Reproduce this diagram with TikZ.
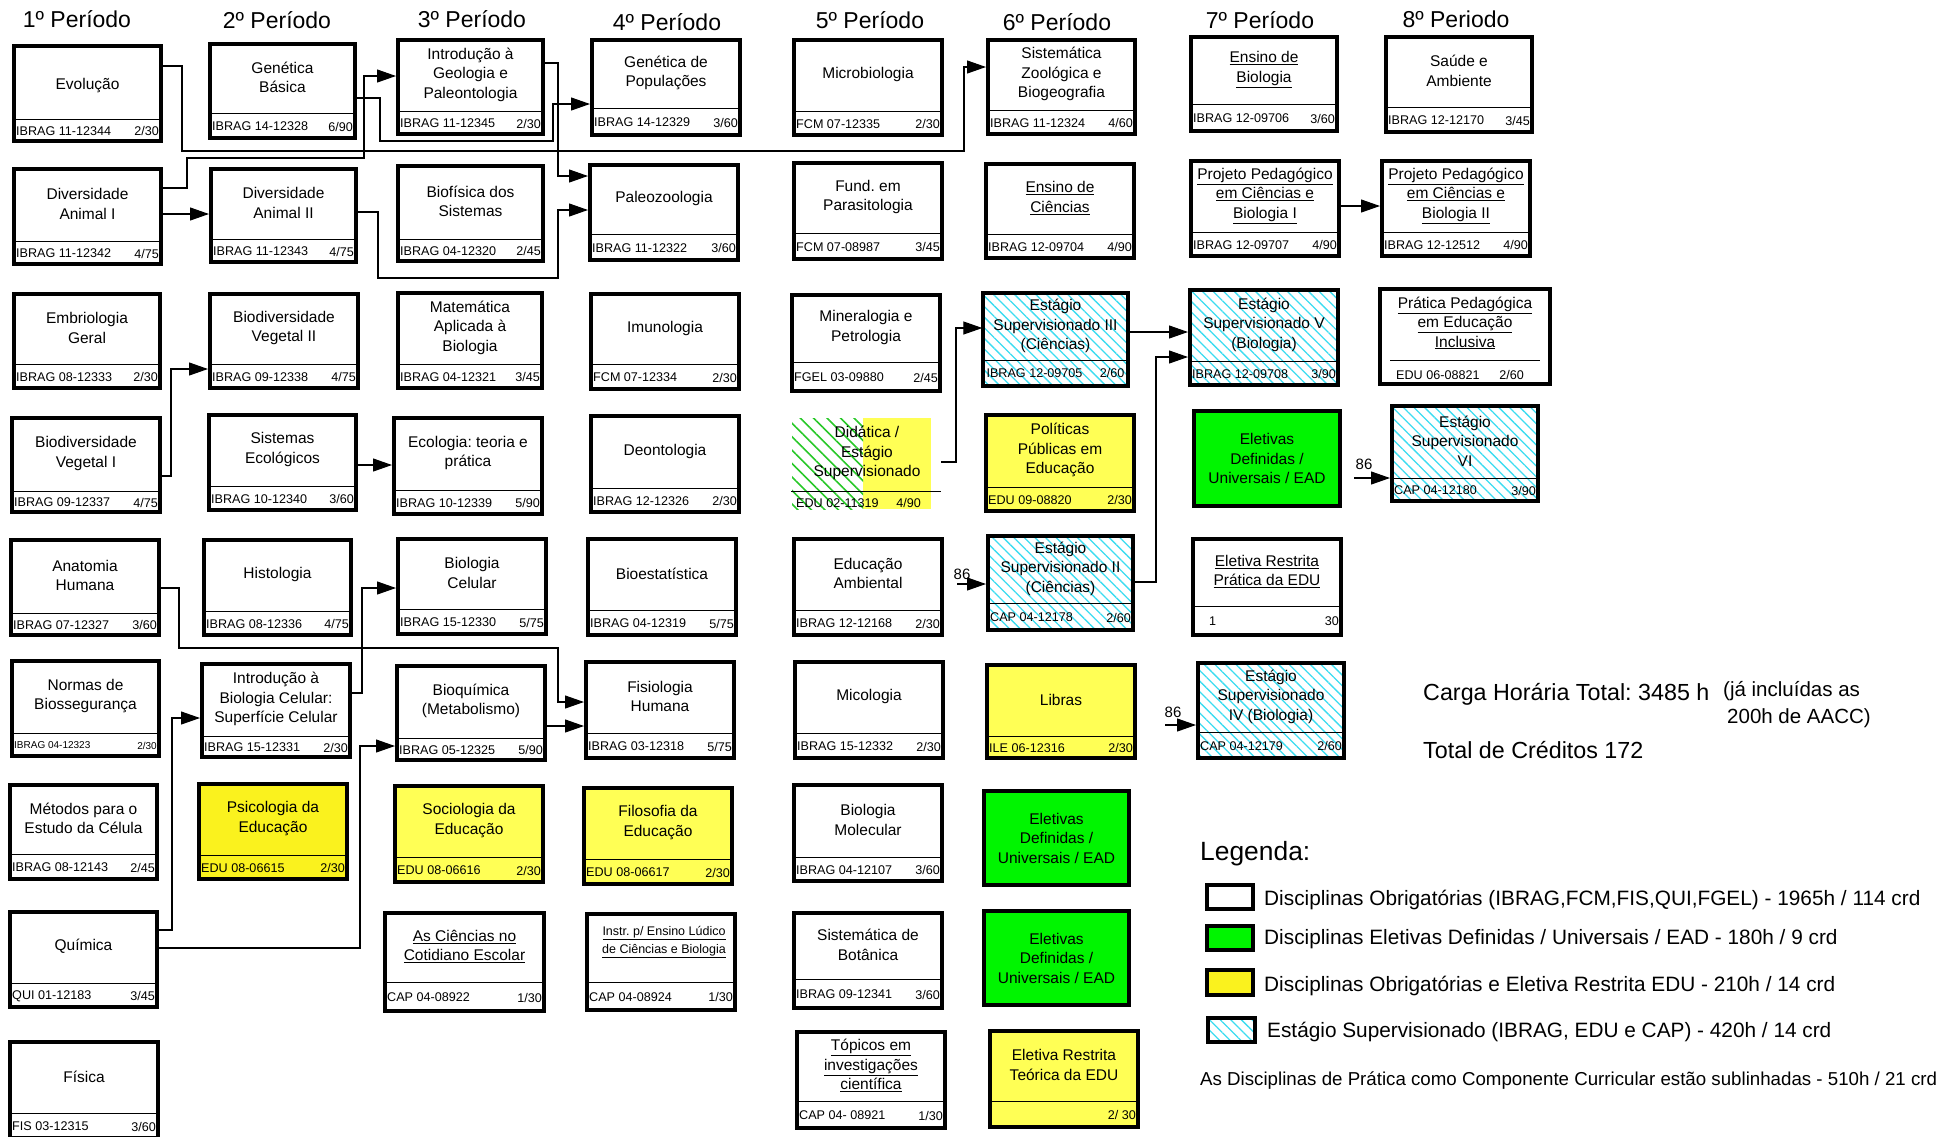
\documentclass[tikz,border=0pt]{standalone}
\usepackage{fontspec}
\setmainfont{Liberation Sans}
\usetikzlibrary{arrows.meta,fit,calc,patterns.meta}
\definecolor{yelA}{RGB}{250,242,30}
\definecolor{yelB}{RGB}{255,255,85}
\definecolor{grn}{RGB}{0,245,0}
\definecolor{hcyan}{RGB}{60,220,240}
\definecolor{hgreen}{RGB}{40,200,40}
\newcommand\ul[1]{\underline{#1}}
\frenchspacing
\tikzset{
 box/.style={draw=black, line width=4pt, inner sep=-2pt},
 divline/.style={line width=1pt},
 ttl/.style={font=\fontsize{15.5}{19.5}\selectfont, align=center, inner sep=0pt},
 curttl/.style={},
 cod/.style={font=\fontsize{12.6}{14}\selectfont, inner xsep=4pt, inner ysep=0pt},
 hdr/.style={font=\fontsize{23}{27}\selectfont, inner sep=0pt, anchor=base},
 conn/.style={line width=1.1pt, -{Triangle[length=19pt,width=13pt]}},
 wht/.style={fill=white},
 yA/.style={fill=yelA},
 yB/.style={fill=yelB},
 gr/.style={fill=grn},
 hatch/.style={pattern={Lines[angle=-45,distance=7.5pt,line width=1.3pt]}, pattern color=hcyan},
 lbl/.style={font=\fontsize{15}{18}\selectfont, inner sep=0pt},
 legtxt/.style={font=\fontsize{20.8}{24}\selectfont, inner sep=0pt, anchor=base west},
}
% name, nw, se, divider y, fill style, title, code, credits
\newcommand\course[8]{%
  \coordinate (#1-nw) at (#2);
  \coordinate (#1-se) at (#3);
  \node[box,#5,fit=(#1-nw)(#1-se)] (#1) {};
  \draw[divline] (#1.west |- 0,#4) -- (#1.east |- 0,#4);
  \node[ttl,curttl] (#1-t) at ($(#1.north)!0.5!(#1.north |- 0,#4)$) {#6};
  \node[cod,anchor=west] (#1-c) at ($(#1.west |- 0,#4)!0.5!(#1.south west)$) {#7};
  \node[cod,anchor=east] (#1-r) at ($(#1.east |- 0,#4)!0.5!(#1.south east)$) {#8};
}
\newcommand\eletbox[3]{%
  \coordinate (#1-nw) at (#2);
  \coordinate (#1-se) at (#3);
  \node[box,gr,fit=(#1-nw)(#1-se)] (#1) {};
  \node[ttl] (#1-t) at (#1.center) {Eletivas\\Definidas /\\Universais / EAD};
}
\begin{document}
\begin{tikzpicture}[x=1pt,y=-1pt]
\useasboundingbox (0,0) rectangle (1957,1136);

% headers
\node[hdr] (h1) at (77,27) {1º Período};
\node[hdr] (h2) at (277,28) {2º Período};
\node[hdr] (h3) at (472,27) {3º Período};
\node[hdr] (h4) at (667,30) {4º Período};
\node[hdr] (h5) at (870,28) {5º Período};
\node[hdr] (h6) at (1057,30) {6º Período};
\node[hdr] (h7) at (1260,28) {7º Período};
\node[hdr] (h8) at (1456,27) {8º Periodo};

% column 1
\tikzset{curttl/.style={yshift=-4pt}}
\course{evol}{12,44}{163,143}{119}{wht}{Evolução}{IBRAG 11-12344}{2/30}
\tikzset{curttl/.style={}}
\course{diva1}{12,167}{163,266}{241}{wht}{Diversidade\\Animal I}{IBRAG 11-12342}{4/75}
\course{embrio}{12,292}{162,390}{364}{wht}{Embriologia\\Geral}{IBRAG 08-12333}{2/30}
\course{bioveg1}{10,416}{162,514}{491}{wht}{Biodiversidade\\Vegetal I}{IBRAG 09-12337}{4/75}
\course{anat}{9,538}{161,637}{613}{wht}{Anatomia\\Humana}{IBRAG 07-12327}{3/60}
\course{normas}{10,659}{161,758}{733}{wht}{Normas de\\Biossegurança}{\fontsize{10}{12}\selectfont IBRAG 04-12323}{\fontsize{10}{12}\selectfont 2/30}
\course{metodos}{8,783}{159,881}{854}{wht}{Métodos para o\\Estudo da Célula}{IBRAG 08-12143}{2/45}
\course{quim}{8,910}{159,1009}{983}{wht}{Química}{QUI 01-12183}{3/45}
\course{fis}{8,1040}{160,1140}{1113}{wht}{Física}{FIS 03-12315}{3/60}

% column 2
\course{genbas}{208,42}{357,140}{113}{wht}{Genética\\Básica}{IBRAG 14-12328}{6/90}
\course{diva2}{209,167}{358,264}{239}{wht}{Diversidade\\Animal II}{IBRAG 11-12343}{4/75}
\course{bioveg2}{208,292}{360,390}{364}{wht}{Biodiversidade\\Vegetal II}{IBRAG 09-12338}{4/75}
\course{sisteco}{207,413}{358,512}{486}{wht}{Sistemas\\Ecológicos}{IBRAG 10-12340}{3/60}
\course{histo}{202,538}{353,637}{611}{wht}{Histologia}{IBRAG 08-12336}{4/75}
\course{introbc}{200,662}{352,759}{736}{wht}{Introdução à\\Biologia Celular:\\Superfície Celular}{IBRAG 15-12331}{2/30}
\course{psico}{197,782}{349,881}{855}{yA}{Psicologia da\\Educação}{EDU 08-06615}{2/30}

% column 3
\course{introgeo}{396,38}{545,136}{111}{wht}{Introdução à\\Geologia e\\Paleontologia}{IBRAG 11-12345}{2/30}
\course{biofis}{396,164}{545,263}{239}{wht}{Biofísica dos\\Sistemas}{IBRAG 04-12320}{2/45}
\course{matem}{396,291}{544,390}{364}{wht}{Matemática\\Aplicada à\\Biologia}{IBRAG 04-12321}{3/45}
\course{ecol}{392,416}{544,516}{490}{wht}{Ecologia: teoria e\\prática}{IBRAG 10-12339}{5/90}
\course{biocel}{396,537}{548,636}{609}{wht}{Biologia\\Celular}{IBRAG 15-12330}{5/75}
\course{bioq}{395,664}{547,762}{738}{wht}{Bioquímica\\(Metabolismo)}{IBRAG 05-12325}{5/90}
\course{socio}{393,784}{545,884}{857}{yB}{Sociologia da\\Educação}{EDU 08-06616}{2/30}
\course{cienc}{383,911}{546,1013}{982}{wht}{\ul{As Ciências no}\\\ul{Cotidiano Escolar}}{CAP 04-08922}{1/30}

% column 4
\course{genpop}{590,38}{742,137}{108}{wht}{Genética de\\Populações}{IBRAG 14-12329}{3/60}
\course{paleo}{588,163}{740,262}{234}{wht}{Paleozoologia}{IBRAG 11-12322}{3/60}
\course{imuno}{589,292}{741,391}{364}{wht}{Imunologia}{FCM 07-12334}{2/30}
\course{deonto}{589,414}{741,514}{488}{wht}{Deontologia}{IBRAG 12-12326}{2/30}
\course{bioest}{586,537}{738,637}{610}{wht}{Bioestatística}{IBRAG 04-12319}{5/75}
\course{fisio}{584,660}{736,760}{733}{wht}{Fisiologia\\Humana}{IBRAG 03-12318}{5/75}
\course{filo}{582,786}{734,886}{859}{yB}{Filosofia da\\Educação}{EDU 08-06617}{2/30}
\tikzset{curttl/.style={font=\fontsize{12.5}{18}\selectfont, xshift=3pt, yshift=5pt}}
\course{instr}{585,912}{737,1012}{982}{wht}{\ul{Instr. p/ Ensino Lúdico}\\\ul{de Ciências e Biologia}}{CAP 04-08924}{1/30}
\tikzset{curttl/.style={}}

% column 5
\course{micro}{792,38}{944,137}{111}{wht}{Microbiologia}{FCM 07-12335}{2/30}
\course{parasit}{792,161}{944,261}{233}{wht}{Fund. em\\Parasitologia}{FCM 07-08987}{3/45}
\course{mineral}{790,293}{942,393}{362}{wht}{Mineralogia e\\Petrologia}{FGEL 03-09880}{2/45}
\coordinate (didat-nw) at (792,418);
\coordinate (didat-se) at (941,509);
\node[fit=(didat-nw)(didat-se), inner sep=0pt] (didat) {};
\fill[yelB] (863,418) rectangle (931,509);
\path[pattern={Lines[angle=-45,distance=9.5pt,line width=1.6pt]}, pattern color=hgreen] (792,418) rectangle (863,509);
\draw[divline] (791,491) -- (941,491);
\node[ttl] (didat-t) at (867,453) {Didática /\\Estágio\\Supervisionado};
\node[cod,anchor=west] (didat-c) at (792,503) {EDU 02-11319};
\node[cod,anchor=east] (didat-r) at (925,503) {4/90};
\course{eduamb}{792,537}{944,637}{610}{wht}{Educação\\Ambiental}{IBRAG 12-12168}{2/30}
\course{mico}{793,660}{945,760}{733}{wht}{Micologia}{IBRAG 15-12332}{2/30}
\course{biomol}{792,783}{944,883}{857}{wht}{Biologia\\Molecular}{IBRAG 04-12107}{3/60}
\course{sistbot}{792,911}{944,1010}{979}{wht}{Sistemática de\\Botânica}{IBRAG 09-12341}{3/60}
\course{topicos}{795,1030}{947,1130}{1101}{wht}{\ul{Tópicos em}\\\ul{investigações}\\\ul{científica}}{CAP 04- 08921}{1/30}

% column 6
\course{sistzoo}{986,38}{1137,136}{110}{wht}{Sistemática\\Zoológica e\\Biogeografia}{IBRAG 11-12324}{4/60}
\course{enscien}{984,162}{1136,260}{234}{wht}{\ul{Ensino de}\\\ul{Ciências}}{IBRAG 12-09704}{4/90}
\course{est3}{981,291}{1130,388}{360}{hatch}{Estágio\\Supervisionado III\\(Ciências)}{IBRAG 12-09705}{2/60}
\course{polit}{984,413}{1136,513}{487}{yB}{Políticas\\Públicas em\\Educação}{EDU 09-08820}{2/30}
\course{est2}{986,534}{1135,632}{603}{hatch}{Estágio\\Supervisionado II\\(Ciências)}{CAP 04-12178}{2/60}
\course{libras}{985,663}{1137,760}{736}{yB}{Libras}{ILE 06-12316}{2/30}
\eletbox{elet1}{982,789}{1131,887}
\eletbox{elet2}{982,909}{1131,1007}
\course{eletteo}{988,1029}{1140,1129}{1101}{yB}{Eletiva Restrita\\Teórica da EDU}{}{2/ 30}

% column 7
\course{ensbio}{1189,35}{1339,133}{104}{wht}{\ul{Ensino de}\\\ul{Biologia}}{IBRAG 12-09706}{3/60}
\course{proj1}{1189,159}{1341,258}{232}{wht}{\ul{Projeto Pedagógico}\\\ul{em Ciências e}\\\ul{Biologia I}}{IBRAG 12-09707}{4/90}
\course{est5}{1188,288}{1340,387}{361}{hatch}{Estágio\\Supervisionado V\\(Biologia)}{IBRAG 12-09708}{3/90}
\eletbox{elet3}{1192,409}{1342,508}
\course{eletprat}{1191,537}{1343,637}{606}{wht}{\ul{Eletiva Restrita}\\\ul{Prática da EDU}}{\hspace{14pt}1}{30}
\course{est4}{1196,661}{1346,760}{732}{hatch}{Estágio\\Supervisionado\\IV (Biologia)}{CAP 04-12179}{2/60}

% column 8
\course{saude}{1384,35}{1534,134}{107}{wht}{Saúde e\\Ambiente}{IBRAG 12-12170}{3/45}
\course{proj2}{1380,159}{1532,258}{232}{wht}{\ul{Projeto Pedagógico}\\\ul{em Ciências e}\\\ul{Biologia II}}{IBRAG 12-12512}{4/90}
\coordinate (prat-nw) at (1378,287);
\coordinate (prat-se) at (1552,386);
\node[box,wht,fit=(prat-nw)(prat-se)] (prat) {};
\draw[divline] (1390,360) -- (1540,360);
\node[ttl] (prat-t) at (1465,323) {\ul{Prática Pedagógica}\\\ul{em Educação}\\\ul{Inclusiva}};
\node[cod,anchor=west] (prat-c) at (1392,375) {EDU 06-08821};
\node[cod,anchor=east] (prat-r) at (1528,375) {2/60};
\course{est6}{1390,404}{1540,503}{478}{hatch}{Estágio\\Supervisionado\\VI}{CAP 04-12180}{3/90}

% connectors
\draw[conn] (evol.east |- 0,66) -| (182,151) -| (964,67) -- (sistzoo.west |- 0,67);
\draw[conn] (genbas.east |- 0,98) -| (380,141) -| (553,104) -- (genpop.west |- 0,104);
\draw[conn] (diva1.east |- 0,188) -| (187,158) -| (364,76) -- (introgeo.west |- 0,76);
\draw[conn] (diva1.east |- 0,214) -- (diva2.west |- 0,214);
\draw[conn] (introgeo.east |- 0,63) -| (558,176) -- (paleo.west |- 0,176);
\draw[conn] (diva2.east |- 0,212) -| (378,278) -| (558,210) -- (paleo.west |- 0,210);
\draw[conn] (bioveg1.east |- 0,476) -| (171,369) -- (bioveg2.west |- 0,369);
\draw[conn] (sisteco.east |- 0,465) -- (ecol.west |- 0,465);
\draw[conn] (anat.east |- 0,588) -| (179,648) -| (558,702) -- (fisio.west |- 0,702);
\draw[conn] (introbc.east |- 0,693) -| (362,588) -- (biocel.west |- 0,588);
\draw[conn] (quim.east |- 0,930) -| (172,718) -- (introbc.west |- 0,718);
\draw[conn] (quim.east |- 0,948) -| (360,746) -- (bioq.west |- 0,746);
\draw[conn] (bioq.east |- 0,726) -- (fisio.west |- 0,726);
\draw[conn] (didat.east |- 0,462) -| (956,328) -- (est3.west |- 0,328);
\draw[conn] (est3.east |- 0,332) -- (est5.west |- 0,332);
\draw[conn] (est2.east |- 0,582) -| (1156,357) -- (est5.west |- 0,357);
\draw[conn] (proj1.east |- 0,206) -- (proj2.west |- 0,206);

% 86 arrows
\coordinate (n86a) at (957,584);
\coordinate (n86b) at (1165,725);
\coordinate (n86c) at (1354,478);
\draw[conn] (n86a) -- (est2.west |- n86a);
\draw[conn] (n86b) -- (est4.west |- n86b);
\draw[conn] (n86c) -- (est6.west |- n86c);
\node[lbl] (l86a) at (962,574) {86};
\node[lbl] (l86b) at (1173,712) {86};
\node[lbl] (l86c) at (1364,464) {86};

% totals
\node[inner sep=0pt, anchor=base west, font=\fontsize{23.3}{27}\selectfont] (carga) at (1423,700) {Carga Horária Total: 3485 h};
\node[inner sep=0pt, anchor=base west, font=\fontsize{20.5}{24}\selectfont] (ja) at (1723,696) {(já incluídas as};
\node[inner sep=0pt, anchor=base west, font=\fontsize{20.5}{24}\selectfont] (aacc) at (1727,723) {200h de AACC)};
\node[inner sep=0pt, anchor=base west, font=\fontsize{23.3}{27}\selectfont] (cred) at (1423,758) {Total de Créditos 172};

% legend
\node[inner sep=0pt, anchor=base west, font=\fontsize{26.4}{30}\selectfont] (leg) at (1200,860) {Legenda:};
\coordinate (lg1-nw) at (1205,883); \coordinate (lg1-se) at (1255,911);
\node[box,wht,fit=(lg1-nw)(lg1-se)] (lg1) {};
\coordinate (lg2-nw) at (1205,924); \coordinate (lg2-se) at (1255,952);
\node[box,gr,fit=(lg2-nw)(lg2-se)] (lg2) {};
\coordinate (lg3-nw) at (1205,968); \coordinate (lg3-se) at (1255,997);
\node[box,yA,fit=(lg3-nw)(lg3-se)] (lg3) {};
\coordinate (lg4-nw) at (1206,1016); \coordinate (lg4-se) at (1257,1044);
\node[box,hatch,fit=(lg4-nw)(lg4-se)] (lg4) {};
\node[legtxt] (lg1-t) at (1264,905) {Disciplinas Obrigatórias (IBRAG,FCM,FIS,QUI,FGEL) - 1965h / 114 crd};
\node[legtxt] (lg2-t) at (1264,944) {Disciplinas Eletivas Definidas / Universais / EAD - 180h / 9 crd};
\node[legtxt] (lg3-t) at (1264,991) {Disciplinas Obrigatórias e Eletiva Restrita EDU - 210h / 14 crd};
\node[legtxt] (lg4-t) at (1267,1037) {Estágio Supervisionado (IBRAG, EDU e CAP) - 420h / 14 crd};
\node[inner sep=0pt, anchor=base west, font=\fontsize{18.7}{22}\selectfont] (note) at (1200,1085) {As Disciplinas de Prática como Componente Curricular estão sublinhadas - 510h / 21 crd};
\end{tikzpicture}
\end{document}
